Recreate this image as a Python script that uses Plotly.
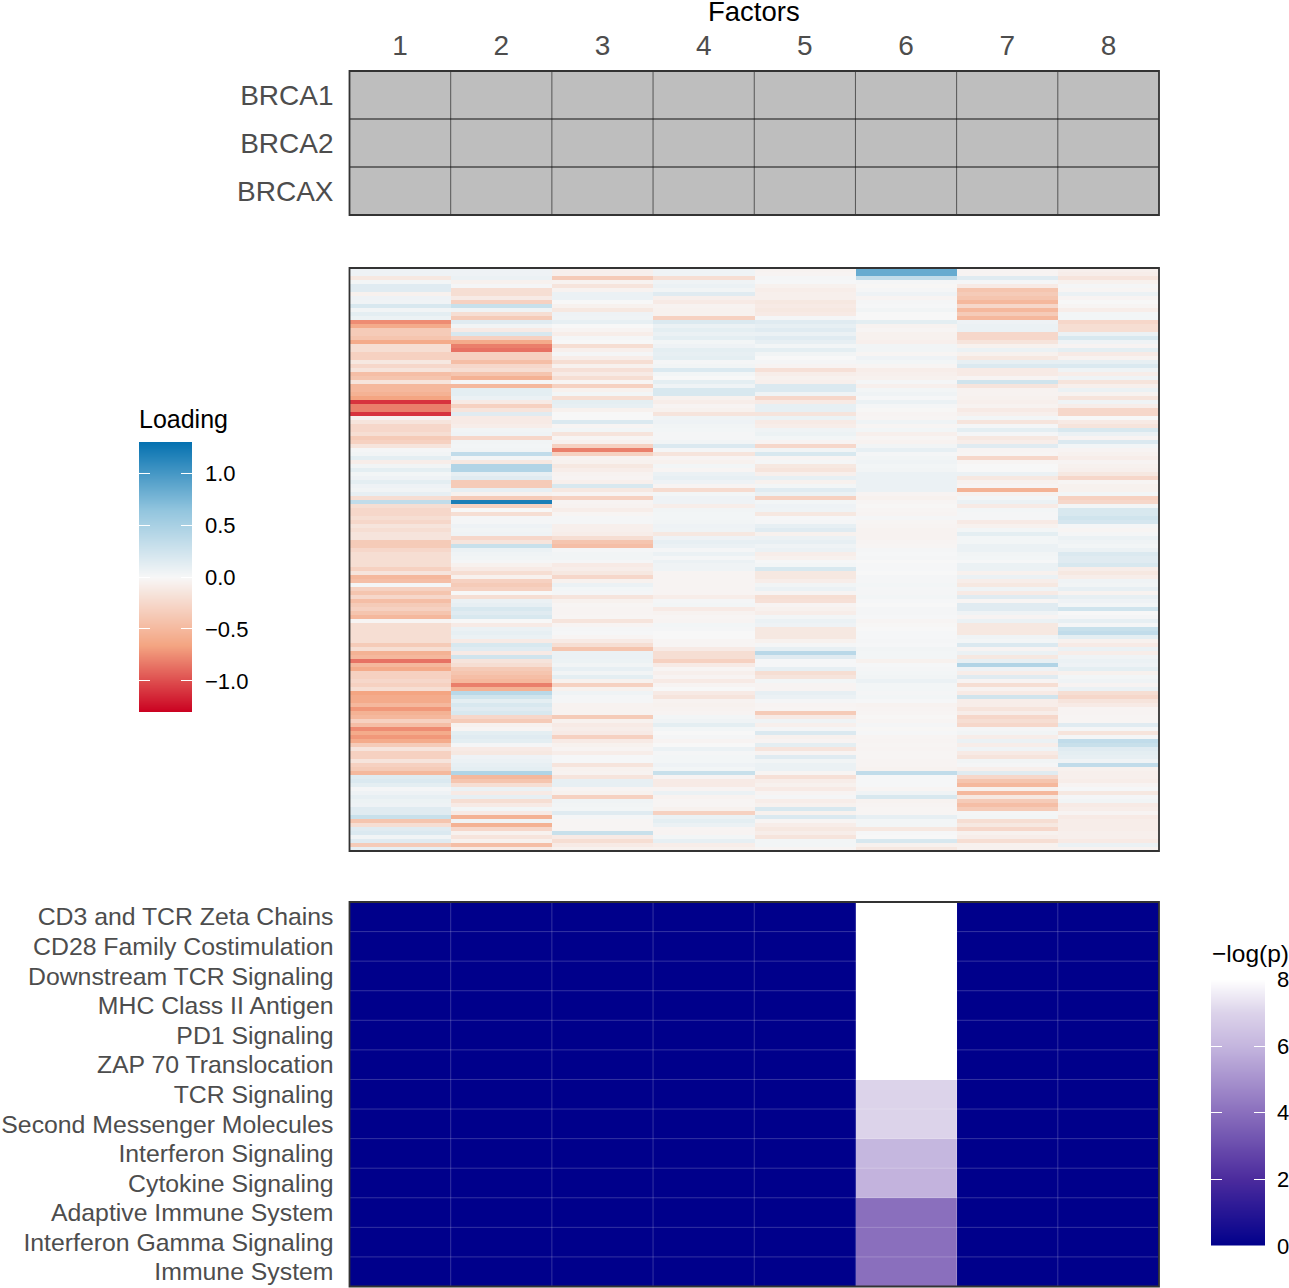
import plotly.graph_objects as go

W, H = 1289, 1288
FONT = "Liberation Sans"

factors = [1, 2, 3, 4, 5, 6, 7, 8]
subtypes = ["BRCA1", "BRCA2", "BRCAX"]
pathways = ["CD3 and TCR Zeta Chains", "CD28 Family Costimulation", "Downstream TCR Signaling",
            "MHC Class II Antigen", "PD1 Signaling", "ZAP 70 Translocation", "TCR Signaling",
            "Second Messenger Molecules", "Interferon Signaling", "Cytokine Signaling",
            "Adaptive Immune System", "Interferon Gamma Signaling", "Immune System"]

# Pathway enrichment, -log(p): only factor 6 is non-zero
factor6_enrichment = [8, 8, 8, 8, 8, 8, 7, 7, 6.05, 5.95, 4, 4, 4]

# Gene loadings per factor, rows read from top to bottom
factor_1 = [.06,.06,-.12,.03,.15,.15,-.05,.06,.05,.2,
            .04,.12,.07,-.75,-.6,-.35,-.35,-.4,-.6,-.2,
            -.2,-.3,-.3,-.12,-.25,-.15,-.45,-.4,-.15,-.5,
            -.5,-.55,-.65,-1.1,-.8,-.8,-1.1,-.05,-.15,-.25,
            -.25,-.2,-.35,-.3,-.15,.02,.04,.12,-.08,.04,
            .12,.03,.06,.12,.06,.04,.1,-.2,.35,-.2,
            -.25,-.25,-.2,-.25,-.15,-.2,-.15,-.15,-.35,-.35,
            -.25,-.2,-.2,-.2,-.2,-.3,-.15,-.5,-.45,.02,
            -.3,-.4,-.25,-.45,-.35,-.3,-.4,-.5,-.02,-.2,
            -.2,-.2,-.2,-.2,-.35,-.2,-.55,-.5,-.85,-.5,
            -.6,-.3,-.3,-.25,-.3,-.2,-.65,-.6,-.6,-.5,
            -.7,-.55,-.5,-.3,-.45,-.75,-.6,-.7,-.6,-.35,
            -.15,-.3,-.3,-.15,-.3,-.35,-.5,.15,.18,.12,
            .02,.06,.1,.07,.06,.15,.15,.3,-.4,-.2,
            .15,.18,.04,.15,-.35,.1]
factor_2 = [.06,.06,.08,-.05,.02,-.2,-.2,-.1,-.3,.3,
            .05,-.2,-.35,.15,.04,-.1,.2,-.3,-.6,-.8,
            -.85,-.3,-.3,-.45,-.25,-.2,-.4,-.55,.02,-.5,
            .12,.12,.08,-.1,-.3,-.15,.15,-.1,-.1,-.08,
            .04,.05,-.25,.04,.03,.04,.35,.03,-.12,.45,
            .45,.1,.15,-.35,-.35,.1,-.05,-.35,1.2,-.3,
            0,-.2,.02,.02,.06,.04,.05,-.25,-.15,.3,
            .08,.05,.04,.02,-.05,-.1,-.2,-.05,-.3,-.35,
            -.3,0,-.2,.08,.1,.2,.15,.2,0,-.1,
            .08,.1,.08,-.1,.2,.15,-.1,.25,-.15,-.2,
            -.35,-.4,-.45,-.5,-.8,-.55,.4,.25,.12,.2,
            .15,.2,-.25,-.35,-.05,-.02,.12,.15,.12,.02,
            -.1,-.12,.06,.08,.1,.12,.45,-.5,-.4,-.2,
            .08,-.1,.1,-.2,-.1,.03,-.1,-.55,.05,-.55,
            -.25,-.05,-.15,-.05,-.45,-.1]
factor_3 = [-.06,-.06,-.35,-.04,-.15,-.04,.08,.08,0,-.05,
            -.12,.06,.05,.1,0,-.03,-.08,.02,0,-.2,
            -.06,.02,-.08,-.2,-.05,-.18,-.1,-.2,-.02,-.3,
            -.05,.03,-.2,.12,.1,-.05,0,0,.18,-.02,
            .03,-.15,-.02,-.05,-.3,-.8,-.3,-.04,-.05,-.12,
            -.08,-.04,-.03,-.06,.2,-.12,-.03,-.3,-.03,-.04,
            -.08,-.02,.02,.02,-.06,-.06,-.08,-.2,-.4,-.45,
            .02,.04,.04,.02,-.1,-.08,-.12,-.25,-.05,.08,
            .03,.02,-.15,-.05,-.02,-.03,-.03,-.02,-.15,-.03,
            .02,.01,-.02,-.1,-.2,-.4,.08,.08,.07,.04,
            .1,.04,.12,-.05,-.3,-.05,.05,.02,.02,-.04,
            -.04,-.04,-.35,-.05,-.1,-.08,-.1,-.3,-.1,-.05,
            -.03,-.08,.01,.01,-.15,-.05,-.04,-.15,.1,.1,
            -.03,-.05,-.3,.05,.04,.03,.15,.02,-.02,-.02,
            -.02,.3,-.1,-.2,-.1,-.05]
factor_4 = [.05,.05,-.2,.05,.08,.04,.15,-.06,-.1,-.04,
            -.05,-.05,-.3,.18,.08,.12,.08,.12,.03,.06,
            .12,.1,.12,.02,.04,.18,.03,0,.12,.05,
            .2,.2,-.05,-.08,-.03,-.05,-.15,.05,.06,.04,
            .03,.02,.02,.04,.18,.02,-.15,-.03,-.05,.03,
            -.02,.08,.1,.06,-.03,-.22,.03,.06,.06,-.08,
            .04,.03,.03,.04,.06,.05,-.12,.06,.1,.08,
            .02,.08,.02,.08,.05,.05,-.03,-.03,-.03,-.03,
            -.03,-.03,-.08,.02,.03,-.1,-.04,-.02,-.03,.03,
            .02,0,0,-.02,-.02,-.1,-.2,-.2,-.3,-.1,
            -.02,-.06,-.03,-.1,-.03,0,-.1,-.15,-.04,-.05,
            -.04,-.03,.03,.05,.12,.03,0,.02,-.03,0,
            .08,.02,.03,.03,.06,.03,.3,-.03,-.1,-.1,
            -.03,.08,-.04,-.02,-.02,-.05,-.3,.08,.12,.08,
            -.03,-.03,.03,.1,-.08,-.05]
factor_5 = [-.04,-.03,.02,.01,-.05,-.08,-.06,-.06,-.12,-.1,
            -.12,-.1,.02,.15,.1,.15,.08,.15,.1,.03,
            .12,.04,0,.02,-.03,-.18,-.08,-.05,-.06,.18,
            .18,.05,-.25,-.1,.1,.1,-.15,.07,-.1,-.08,
            .05,.07,.03,-.03,-.25,.04,.2,-.02,.02,-.12,
            -.15,-.06,.1,-.05,.03,.15,.08,-.3,.03,.06,
            .05,-.12,.01,.02,.1,.15,-.05,.08,.1,.05,
            .08,-.08,-.05,.01,.03,.2,-.12,-.12,-.08,.04,
            .08,-.03,-.2,-.18,-.03,-.05,-.08,.03,.08,.06,
            -.12,-.12,-.12,-.05,.02,.1,.4,.15,.01,.01,
            .1,-.2,-.15,.03,-.03,-.03,.1,.08,.02,-.03,
            -.02,-.35,-.1,.05,-.06,.02,.18,-.05,-.03,.12,
            -.15,-.03,.15,.04,.08,.08,-.02,-.18,-.08,-.05,
            -.1,-.03,.02,-.08,-.05,.2,-.05,.18,-.02,-.08,
            -.12,-.08,-.15,.03,.03,-.02]
factor_6 = [.85,.85,.35,.02,-.01,.02,.06,-.03,.02,.01,
            .04,0,0,.12,-.04,-.02,-.05,-.05,-.06,.04,
            .04,-.02,.06,.03,-.02,-.08,-.06,-.05,.02,-.06,
            .03,.05,.01,.08,.02,-.01,-.03,-.02,.05,-.02,
            .03,-.06,-.02,-.04,.04,.1,.02,.04,.05,.03,
            .04,.08,.08,.08,.08,.08,-.03,-.05,-.02,-.01,
            -.02,-.03,.02,-.02,-.03,-.04,-.04,-.04,-.03,-.02,
            .02,.01,.02,0,.01,.01,0,.02,.02,.03,
            .02,.02,.03,.01,0,.02,.02,.01,-.02,-.01,
            0,.01,.01,.02,.01,.04,.03,.03,-.05,.01,
            .02,.03,.04,.08,.03,.03,.02,.03,.01,-.04,
            -.03,-.02,-.01,-.02,.02,-.01,.01,-.02,-.03,-.02,
            -.03,-.02,-.02,-.03,-.03,-.04,.35,.01,.01,.01,
            -.02,.05,.2,-.04,-.03,-.02,-.02,.1,.03,.03,
            -.12,.01,0,.2,-.05,-.12]
factor_7 = [-.03,-.03,.15,.02,-.1,-.4,-.35,-.4,-.5,-.25,
            -.5,-.35,-.5,.06,.08,.08,-.25,-.25,-.15,-.05,
            .08,-.05,-.12,.1,.18,-.1,-.1,-.03,.25,-.15,
            -.04,-.04,-.05,-.06,-.04,-.1,-.06,.03,-.15,.02,
            .12,.02,-.12,-.08,.15,-.03,-.02,-.25,-.02,0,
            0,.08,-.12,-.05,-.03,-.55,-.05,.03,.08,-.1,
            .03,.02,.02,-.1,-.05,.03,.12,.03,.03,.08,
            .08,.04,.03,.01,.08,.08,-.05,.08,-.08,-.12,
            .05,-.1,.15,-.02,.15,.15,.05,-.03,.08,-.12,
            -.12,-.12,.05,.03,.18,-.03,.08,-.12,.1,.45,
            .06,-.08,.15,-.03,-.2,-.04,-.1,.25,-.08,-.08,
            -.15,-.08,-.25,-.2,-.25,.02,.04,-.08,.08,-.08,
            .05,-.1,-.15,.04,.02,-.06,.15,-.25,-.4,-.5,
            -.05,-.5,-.12,-.35,-.45,-.35,.02,.03,-.2,-.12,
            -.25,-.05,-.08,-.2,-.05,-.05]
factor_8 = [-.06,-.08,-.15,-.05,.02,-.02,.08,-.03,0,-.02,
            -.08,.03,.03,-.25,-.2,-.2,.08,.2,.05,-.03,
            .12,-.1,-.04,.1,.18,.05,-.08,.05,-.15,-.06,
            .08,-.04,-.15,.05,-.08,-.25,-.25,0,-.1,-.15,
            .2,.08,-.03,.18,.03,-.03,-.05,-.08,-.03,-.05,
            -.06,-.12,-.25,-.02,-.05,-.05,.03,-.3,-.25,.03,
            .2,.2,.25,.22,.02,-.02,.02,.08,.05,.03,
            .08,.18,.15,.15,.2,-.08,-.12,-.08,.05,.04,
            .1,-.04,.1,.06,.03,.25,0,.02,.1,.02,
            .3,.35,.12,-.05,-.1,.08,-.08,.05,.08,.06,
            .12,-.05,.03,.05,-.03,.08,-.2,-.25,-.15,-.1,
            -.03,-.03,-.02,-.02,.15,.02,-.15,.02,.35,.3,
            .15,.12,.1,.05,.35,-.05,-.06,-.06,-.08,-.03,
            .01,-.12,.02,.04,-.1,-.08,-.03,-.1,-.08,-.08,
            -.08,-.06,-.06,-.1,.08,-.04]

loading_legend_levels = [-1.3, -0.65, 0, 0.65, 1.3]
loading_legend_ticks = [-1.0, -0.5, 0.0, 0.5, 1.0]
loading_legend_labels = ["−1.0", "−0.5", "0.0", "0.5", "1.0"]
logp_legend_levels = [0, 2, 4, 6, 7, 8]
logp_legend_ticks = [0, 2, 4, 6, 8]

RDBU = [[0, "#CA0020"], [.25, "#F4A582"], [.5, "#F7F7F7"], [.75, "#92C5DE"], [1, "#0571B0"]]
PURPLES = [[0, "#00008B"], [.25, "#4B2B9D"], [.5, "#8A6FBD"], [.75, "#C4B5DE"], [.875, "#DCD3EA"], [1, "#FFFFFF"]]


def xdom(a, b):
    return [a / W, b / W]


def ydom(top, bottom):
    return [1 - bottom / H, 1 - top / H]


loadings = list(zip(factor_1, factor_2, factor_3, factor_4, factor_5, factor_6, factor_7, factor_8))
n_genes = len(loadings)

enrichment = [[v if f == 6 else 0 for f in factors] for v in factor6_enrichment]

fig = go.Figure()
fig.add_trace(go.Heatmap(z=[[0] * len(factors) for _ in subtypes], x=factors, y=subtypes,
                         colorscale=[[0, "#BEBEBE"], [1, "#BEBEBE"]], showscale=False,
                         xaxis="x", yaxis="y", hoverinfo="skip"))
fig.add_trace(go.Heatmap(z=loadings, x=factors, y=list(range(n_genes)), colorscale=RDBU,
                         zmin=-1.3, zmax=1.3, showscale=False, xaxis="x2", yaxis="y2"))
fig.add_trace(go.Heatmap(z=enrichment, x=factors, y=pathways, colorscale=PURPLES,
                         zmin=0, zmax=8, showscale=False, xaxis="x3", yaxis="y3"))
fig.add_trace(go.Heatmap(z=[[v, v] for v in loading_legend_levels], x=[0, 1], y=loading_legend_levels,
                         colorscale=RDBU, zmin=-1.3, zmax=1.3, zsmooth="best", showscale=False,
                         xaxis="x4", yaxis="y4", hoverinfo="skip"))
fig.add_trace(go.Heatmap(z=[[v, v] for v in logp_legend_levels], x=[0, 1], y=logp_legend_levels,
                         colorscale=PURPLES, zmin=0, zmax=8, zsmooth="best", showscale=False,
                         xaxis="x5", yaxis="y5", hoverinfo="skip"))

GREY = "#4D4D4D"
frame = dict(showline=False, showgrid=False, zeroline=False, ticks="")
xr = [0.5, 8.5]
X = xdom(349.5, 1159)
layout = dict(
    width=W, height=H, margin=dict(l=0, r=0, t=0, b=0, autoexpand=False),
    paper_bgcolor="white", plot_bgcolor="white",
    font=dict(family=FONT, color="black"),
    xaxis=dict(frame, domain=X, range=xr, side="top", tickmode="array", tickvals=factors,
               ticktext=[str(f) for f in factors], tickfont=dict(size=28, color=GREY),
               anchor="y", ticklabelstandoff=9),
    yaxis=dict(frame, domain=ydom(71, 215), autorange="reversed", anchor="x",
               tickmode="array", tickvals=subtypes, ticktext=subtypes,
               tickfont=dict(size=28, color=GREY), ticklabelstandoff=15),
    xaxis2=dict(frame, domain=X, range=xr, showticklabels=False, anchor="y2"),
    yaxis2=dict(frame, domain=ydom(268, 851), range=[n_genes - .5, -.5], showticklabels=False, anchor="x2"),
    xaxis3=dict(frame, domain=X, range=xr, showticklabels=False, anchor="y3"),
    yaxis3=dict(frame, domain=ydom(902, 1286.5), autorange="reversed", anchor="x3",
                tickmode="array", tickvals=pathways, ticktext=pathways,
                tickfont=dict(size=24.8, color=GREY), ticklabelstandoff=15),
    xaxis4=dict(domain=xdom(139, 192), range=[0, 1], visible=False, anchor="y4"),
    yaxis4=dict(domain=ydom(442, 712), range=[-1.3, 1.3], side="right", anchor="x4", showgrid=False, zeroline=False,
                tickmode="array", tickvals=loading_legend_ticks, ticktext=loading_legend_labels,
                ticks="inside", ticklen=11, tickcolor="white", tickwidth=1, mirror="ticks",
                tickfont=dict(size=22, color="black"), ticklabelstandoff=12),
    xaxis5=dict(domain=xdom(1211, 1265), range=[0, 1], visible=False, anchor="y5"),
    yaxis5=dict(domain=ydom(979.5, 1246), range=[0, 8], side="right", anchor="x5", showgrid=False, zeroline=False,
                tickmode="array", tickvals=logp_legend_ticks, ticktext=[str(t) for t in logp_legend_ticks],
                ticks="inside", ticklen=11, tickcolor="white", tickwidth=1, mirror="ticks",
                tickfont=dict(size=22, color="black"), ticklabelstandoff=11),
    annotations=[
        dict(text="Factors", xref="paper", yref="paper", x=754 / W, y=1 - 11 / H, xanchor="center", yanchor="middle",
             showarrow=False, borderpad=0, height=22, font=dict(size=27.5, color="black")),
        dict(text="Loading", xref="paper", yref="paper", x=138 / W, y=1 - 419 / H, xanchor="left", yanchor="middle",
             showarrow=False, borderpad=0, font=dict(size=25, color="black")),
        dict(text="−log(p)", xref="paper", yref="paper", x=1211 / W, y=1 - 953.5 / H, xanchor="left", yanchor="middle",
             showarrow=False, borderpad=0, font=dict(size=24.5, color="black")),
    ],
)

shapes = []
for f in factors[:-1]:
    shapes.append(dict(type="line", xref="x", yref="y domain", x0=f + .5, x1=f + .5, y0=0, y1=1,
                       line=dict(color="#555555", width=1)))
    shapes.append(dict(type="line", xref="x3", yref="y3 domain", x0=f + .5, x1=f + .5, y0=0, y1=1,
                       line=dict(color="rgba(255,255,255,0.2)", width=1)))
for i in range(len(subtypes) - 1):
    shapes.append(dict(type="line", xref="x domain", yref="y", x0=0, x1=1, y0=i + .5, y1=i + .5,
                       line=dict(color="#111111", width=1)))
for i in range(len(pathways) - 1):
    shapes.append(dict(type="line", xref="x3 domain", yref="y3", x0=0, x1=1, y0=i + .5, y1=i + .5,
                       line=dict(color="rgba(255,255,255,0.2)", width=1)))
for suffix in ["", "2", "3"]:
    shapes.append(dict(type="rect", xref=f"x{suffix} domain", yref=f"y{suffix} domain", x0=0, x1=1, y0=0, y1=1,
                       line=dict(color="#333333", width=1.8)))
layout["shapes"] = shapes
fig.update_layout(**layout)

fig.write_html("out.html", config={"displayModeBar": False},
               post_script="document.body.style.margin='0';document.documentElement.style.overflow='hidden';")
